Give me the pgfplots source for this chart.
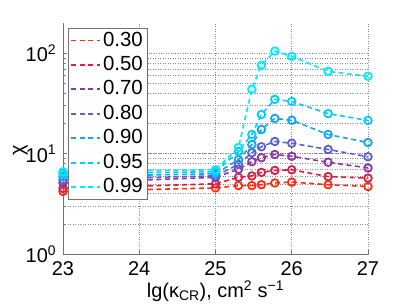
\documentclass[border=0pt]{standalone}
\usepackage{fontspec}
\setmainfont{Liberation Sans}
\usepackage{pgfplots}
\pgfplotsset{compat=1.18}
\definecolor{c30}{RGB}{255,45,20}
\definecolor{c50}{RGB}{220,30,70}
\definecolor{c70}{RGB}{145,55,165}
\definecolor{c80}{RGB}{90,95,210}
\definecolor{c90}{RGB}{20,165,240}
\definecolor{c95}{RGB}{0,205,255}
\definecolor{c99}{RGB}{0,235,255}
\begin{document}
\fontsize{20}{23}\selectfont
\begin{tikzpicture}
\begin{axis}[
  scale only axis, width=305bp, height=231bp,
  at={(0,0)}, anchor=south west,
  ymode=log, xmin=23, xmax=27, ymin=1, ymax=200,
  axis x line*=bottom, axis y line*=left,
  axis line style={black!55, line width=0.6bp, -},
  xtick={23,24,25,26,27}, xticklabels={23,24,25,26,27},
  ytick={1,10,100}, yticklabels={{10\textsuperscript{0}},{10\textsuperscript{1}},{10\textsuperscript{2}}},
  tick align=inside, major tick length=4bp, minor tick length=2.5bp,
  tick style={black!55, line width=0.5bp},
  xmajorgrids, ymajorgrids, yminorgrids,
  grid style={black!45, dotted, line width=0.5bp},
  minor grid style={black!45, dotted, line width=0.5bp},
  xlabel={lg(κ\textsubscript{CR}), cm\textsuperscript{2} s\textsuperscript{−1}},
  ylabel={χ},
  xlabel style={yshift=9bp},
  ylabel style={at={(axis description cs:-0.14,0.45)}, anchor=center},
  xticklabel style={yshift=-1bp},
  ticklabel style={font=\fontsize{20}{23}\selectfont},
  label style={font=\fontsize{20}{23}\selectfont},
  legend style={at={(0.016,0.978)}, anchor=north west, draw=black!55, line width=0.6bp,
    font=\fontsize{20.5}{23}\selectfont, row sep=3.2bp, inner xsep=2bp, inner ysep=1.5bp},
  legend cell align=left,
  legend image code/.code={\draw[#1, mark=none, line width=1.9bp] (0bp,0bp) -- (29bp,0bp);},
  every axis plot/.append style={line width=1.6bp, dash pattern=on 5bp off 3.5bp,
    mark=o, mark size=3.8bp, mark options={solid, line width=1.8bp}},
  clip=false,
]
\addplot[c30] coordinates {(23,4.2) (25,4.55) (25.301,4.8) (25.477,4.8) (25.602,4.9) (25.778,5.1) (26,5.2) (26.477,4.9) (27,4.7)};
\addlegendentry{0.30}
\addplot[c50] coordinates {(23,4.5) (25,5.0) (25.301,5.8) (25.477,6.0) (25.602,6.5) (25.778,6.8) (26,6.9) (26.477,5.9) (27,5.7)};
\addlegendentry{0.50}
\addplot[c70] coordinates {(23,5.1) (25,5.8) (25.301,7.0) (25.477,8.3) (25.602,9.1) (25.778,9.8) (26,9.4) (26.477,8.2) (27,7.2)};
\addlegendentry{0.70}
\addplot[c80] coordinates {(23,5.5) (25,6.0) (25.301,7.8) (25.477,10.2) (25.602,11.7) (25.778,13.2) (26,12.7) (26.477,11.0) (27,9.3)};
\addlegendentry{0.80}
\addplot[c90] coordinates {(23,5.9) (25,6.3) (25.301,8.7) (25.477,12.3) (25.602,17.4) (25.778,22.4) (26,21.5) (26.477,15.5) (27,12.9)};
\addlegendentry{0.90}
\addplot[c95] coordinates {(23,6.3) (25,6.6) (25.301,10.5) (25.477,15.5) (25.602,24.5) (25.778,34.7) (26,33) (26.477,25) (27,21.4)};
\addlegendentry{0.95}
\addplot[c99] coordinates {(23,6.6) (25,6.9) (25.301,11.5) (25.477,43.7) (25.602,76) (25.778,105) (26,93) (26.477,66) (27,59)};
\addlegendentry{0.99}
\end{axis}
\pgfresetboundingbox
\path[use as bounding box] (-63bp,-53bp) rectangle (344bp,254bp);
\end{tikzpicture}
\end{document}
